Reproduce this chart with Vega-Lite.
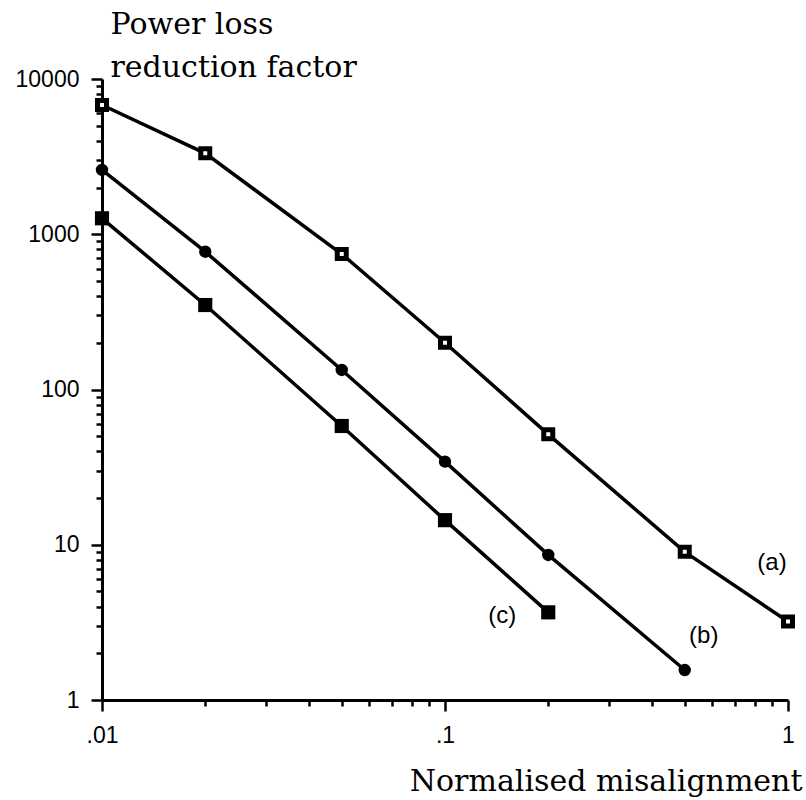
{
  "$schema": "https://vega.github.io/schema/vega-lite/v6.json",
  "width": 686,
  "height": 621,
  "autosize": "none",
  "padding": {"left": 102, "top": 79, "right": 18, "bottom": 100},
  "background": "white",
  "config": {
    "view": {"stroke": null},
    "axis": {
      "domainColor": "black",
      "domainWidth": 3,
      "tickColor": "black",
      "tickWidth": 2.5,
      "labelColor": "black",
      "labelFont": "Liberation Sans",
      "labelFontSize": 23,
      "titleColor": "black",
      "titleFont": "DejaVu Serif",
      "titleFontSize": 30,
      "titleFontWeight": "normal",
      "grid": false,
      "labelOverlap": false,
      "labelFlush": false
    }
  },
  "data": {
    "values": [
      {"series": "a", "x": 0.01, "y": 6800},
      {"series": "a", "x": 0.02, "y": 3320},
      {"series": "a", "x": 0.05, "y": 746},
      {"series": "a", "x": 0.1, "y": 200},
      {"series": "a", "x": 0.2, "y": 51.4},
      {"series": "a", "x": 0.5, "y": 9.0},
      {"series": "a", "x": 1, "y": 3.2},
      {"series": "b", "x": 0.01, "y": 2594},
      {"series": "b", "x": 0.02, "y": 772},
      {"series": "b", "x": 0.05, "y": 133.6},
      {"series": "b", "x": 0.1, "y": 34.3},
      {"series": "b", "x": 0.2, "y": 8.6},
      {"series": "b", "x": 0.5, "y": 1.56},
      {"series": "c", "x": 0.01, "y": 1267},
      {"series": "c", "x": 0.02, "y": 350},
      {"series": "c", "x": 0.05, "y": 58.2},
      {"series": "c", "x": 0.1, "y": 14.4},
      {"series": "c", "x": 0.2, "y": 3.67}
    ]
  },
  "encoding": {
    "x": {
      "field": "x",
      "type": "quantitative",
      "scale": {"type": "log", "domain": [0.01, 1], "nice": false},
      "axis": {
        "title": "Normalised misalignment",
        "titleX": 700,
        "titleY": 90,
        "titleAlign": "right",
        "titleAnchor": null,
        "titleBaseline": "alphabetic",
        "values": [0.01, 0.02, 0.03, 0.04, 0.05, 0.06, 0.07, 0.08, 0.09, 0.1, 0.2, 0.3, 0.4, 0.5, 0.6, 0.7, 0.8, 0.9, 1],
        "labelExpr": "datum.value == 0.01 ? '.01' : datum.value == 0.1 ? '.1' : datum.value == 1 ? '1' : ''",
        "tickSize": {"condition": {"test": "abs(log(datum.value)/LN10 - round(log(datum.value)/LN10)) < 1e-6", "value": 11}, "value": 6},
        "labelBaseline": "top",
        "labelPadding": 13
      }
    },
    "y": {
      "field": "y",
      "type": "quantitative",
      "scale": {"type": "log", "domain": [1, 10000], "nice": false},
      "axis": {
        "title": ["Power loss", "reduction factor"],
        "titleAngle": 0,
        "titleX": 8,
        "titleY": -46,
        "titleAlign": "left",
        "titleAnchor": null,
        "titleBaseline": "alphabetic",
        "titleLineHeight": 43,
        "values": [1, 2, 3, 4, 5, 6, 7, 8, 9, 10, 20, 30, 40, 50, 60, 70, 80, 90, 100, 200, 300, 400, 500, 600, 700, 800, 900, 1000, 2000, 3000, 4000, 5000, 6000, 7000, 8000, 9000, 10000],
        "labelExpr": "abs(log(datum.value)/LN10 - round(log(datum.value)/LN10)) < 1e-6 ? format(datum.value, 'd') : ''",
        "tickSize": {"condition": {"test": "abs(log(datum.value)/LN10 - round(log(datum.value)/LN10)) < 1e-6", "value": 11}, "value": 6},
        "labelPadding": 12
      }
    }
  },
  "layer": [
    {
      "mark": {"type": "line", "color": "black", "strokeWidth": 3.5},
      "encoding": {"detail": {"field": "series"}}
    },
    {
      "transform": [{"filter": "datum.series == 'a'"}],
      "mark": {"type": "point", "shape": "square", "filled": true, "fill": "white", "stroke": "black", "strokeWidth": 5, "size": 81, "opacity": 1}
    },
    {
      "transform": [{"filter": "datum.series == 'b'"}],
      "mark": {"type": "point", "shape": "circle", "filled": true, "color": "black", "size": 154, "opacity": 1}
    },
    {
      "transform": [{"filter": "datum.series == 'c'"}],
      "mark": {"type": "point", "shape": "square", "filled": true, "color": "black", "size": 200, "opacity": 1}
    },
    {
      "transform": [{"filter": "datum.series == 'a' && datum.x == 1"}],
      "mark": {"type": "text", "text": "(a)", "font": "Liberation Sans", "fontSize": 24, "color": "black", "align": "center", "baseline": "middle", "dx": -16, "dy": -59}
    },
    {
      "transform": [{"filter": "datum.series == 'b' && datum.x == 0.5"}],
      "mark": {"type": "text", "text": "(b)", "font": "Liberation Sans", "fontSize": 24, "color": "black", "align": "center", "baseline": "middle", "dx": 19, "dy": -34}
    },
    {
      "transform": [{"filter": "datum.series == 'c' && datum.x == 0.2"}],
      "mark": {"type": "text", "text": "(c)", "font": "Liberation Sans", "fontSize": 24, "color": "black", "align": "center", "baseline": "middle", "dx": -46, "dy": 4}
    }
  ]
}
